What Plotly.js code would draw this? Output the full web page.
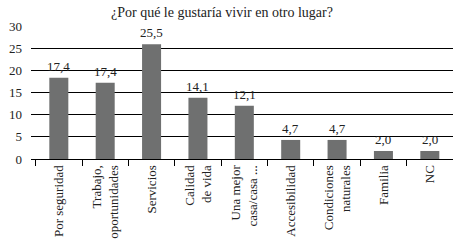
<!DOCTYPE html>
<html><head><meta charset="utf-8">
<script src="https://cdn.plot.ly/plotly-3.0.1.min.js"></script>
<style>html,body{margin:0;padding:0;background:#fff}</style>
</head><body>
<div id="chart" style="width:453px;height:242px"></div>
<script>
const categories = ["Por seguridad","Trabajo,<br>oportunidades","Servicios","Calidad<br>de vida","Una mejor<br>casa/casa ...","Accesibilidad","Condiciones<br>naturales","Familia","NC"];
// bar heights as drawn in the picture
const values = [18.3,17.2,25.9,13.8,12.0,4.3,4.3,1.8,1.8];
// printed data labels
const labels = ["17,4","17,4","25,5","14,1","12,1","4,7","4,7","2,0","2,0"];
const yTicks = [0,5,10,15,20,25,30];

const fam = "Liberation Serif, DejaVu Serif, serif";
const annotations = categories.map((c,i)=>({
  x:c, y:values[i], xref:"x", yref:"y", text:labels[i], showarrow:false,
  yanchor:"bottom", xanchor:"center", yshift:2,
  font:{family:fam,size:13,color:"#222"}
}));
Plotly.newPlot("chart",[{
  type:"bar", x:categories, y:values,
  marker:{color:"#6f7070"}, width:0.41, hoverinfo:"none"
}],{
  width:453, height:242,
  margin:{l:31,r:0,t:26,b:83},
  paper_bgcolor:"#fff", plot_bgcolor:"#fff",
  font:{family:fam,size:12,color:"#222"},
  title:{text:"¿Por qué le gustaría vivir en otro lugar?", font:{family:fam,size:14,color:"#222"}, x:0.49, xanchor:"center", y:0.95, yanchor:"middle"},
  showlegend:false,
  annotations:annotations,
  xaxis:{type:"category", range:[-0.6,8.5], tickangle:-90, tickson:"boundaries", ticks:"outside", ticklen:6, tickcolor:"#000",
         showline:true, linecolor:"#000", linewidth:1, showgrid:false, tickfont:{family:fam,size:13,color:"#222"}, fixedrange:true},
  yaxis:{range:[0,30], tickvals:yTicks, ticktext:yTicks.map(String), showgrid:true, gridcolor:"#000", gridwidth:1,
         zeroline:true, zerolinecolor:"#000", showline:false, ticks:"", ticklabelstandoff:8,
         tickfont:{family:fam,size:13,color:"#222"}, fixedrange:true}
},{staticPlot:true});
</script>
</body></html>
